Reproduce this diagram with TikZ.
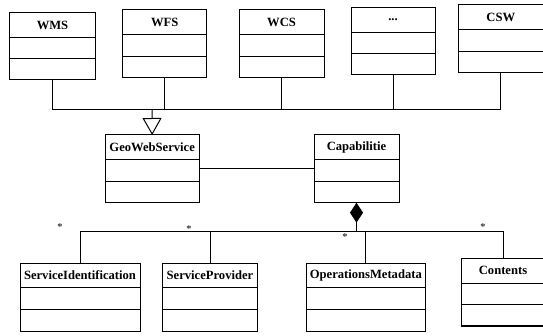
\documentclass[tikz,border=0pt]{standalone}
\usepackage{fontspec}
\setmainfont{Liberation Serif}
\usetikzlibrary{arrows.meta,positioning,calc,fit}
\newcommand{\moredots}{...}
\tikzset{cls/.style={draw,line width=1pt,inner sep=0pt,outer sep=0pt},
  clsname/.style={font=\fontsize{12.6}{14}\selectfont\bfseries,inner sep=0pt},
  mult/.style={font=\fontsize{10.5}{11}\selectfont,inner sep=0pt},
  lnk/.style={line width=1pt},
  gen/.style={lnk,-{Triangle[open,length=17pt,width=19pt,line width=1pt]}},
  comp/.style={lnk,-{Diamond[length=20pt,width=13pt]}}}

\begin{document}
\begin{tikzpicture}[x=1pt,y=-1pt]
\useasboundingbox (0,0) rectangle (543,336);
% classes: name/label/left/right/top/bottom/divider/divider
\foreach \nm/\lbl/\xa/\xb/\ya/\yb/\da/\db in {
  wms/WMS/9.3/95.7/12.7/80/37.3/59,
  wfs/WFS/122.7/206.7/10/77.7/34.3/56.7,
  wcs/WCS/239/324/10/77.7/34.3/56.7,
  more/\moredots/351/435/7.3/75/32.3/54,
  csw/CSW/458.5/543/5/72.7/29.3/51.7,
  geo/GeoWebService/105/199.3/135/202.7/160/181.7,
  cap/Capabilitie/314/399/135/202.7/160/181.7,
  sid/ServiceIdentification/20/140/263.3/331/287.7/309.3,
  spr/ServiceProvider/162.3/257.7/263.3/331/287.7/309.3,
  opm/OperationsMetadata/306/425.7/263.3/331/287.7/309.3,
  cnt/Contents/461/545/258.3/326/283.3/304.3}{
  \node[cls,fit={(\xa,\ya) (\xb,\yb)}] (\nm) {};
  \draw[lnk] (\xa,\da) -- (\xb,\da) (\xa,\db) -- (\xb,\db);
  \node[clsname] (\nm-l) at ({(\xa+\xb)/2},{(\ya+\da)/2}) {\lbl};
}
% generalization
\coordinate (bus) at (152,110);
\draw[lnk] (wms.south) -- (wms.south |- bus) -- (csw.south |- bus) -- (csw.south);
\foreach \nm in {wfs,wcs,more} \draw[lnk] (\nm.south) -- (\nm.south |- bus);
\draw[gen] (bus) -- (geo.north);
% association
\draw[lnk] (geo) -- (cap);
% composition
\coordinate (agg) at (356.5,232);
\draw[comp] (agg) -- (cap.south);
\draw[lnk] (sid.north) -- (sid.north |- agg) -- (cnt.north |- agg) -- (cnt.north);
\foreach \nm in {spr,opm} \draw[lnk] (\nm.north) -- (\nm.north |- agg);
\node[mult] (m-sid) at (60,227) {*};
\node[mult] (m-spr) at (189,229.5) {*};
\node[mult] (m-opm) at (345,237) {*};
\node[mult] (m-cnt) at (483,227) {*};
\end{tikzpicture}
\end{document}
